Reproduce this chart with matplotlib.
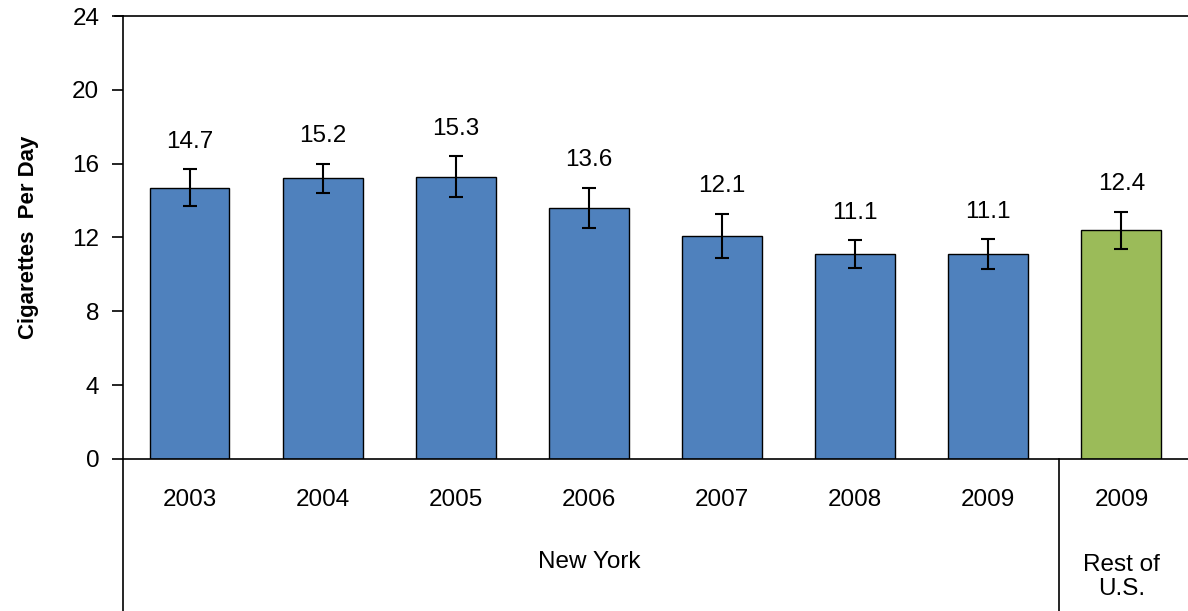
import matplotlib.pyplot as plt
import matplotlib.transforms as mtransforms
import numpy as np

plt.rcParams['font.family'] = ['Liberation Sans', 'DejaVu Sans']

# Data
years = ['2003', '2004', '2005', '2006', '2007', '2008', '2009', '2009']
values = [14.7, 15.2, 15.3, 13.6, 12.1, 11.1, 11.1, 12.4]
errors = [1.0, 0.8, 1.1, 1.1, 1.2, 0.75, 0.8, 1.0]
groups = ['New York', 'Rest of\nU.S.']
colors = ['#4F81BD'] * 7 + ['#9BBB59']

fig = plt.figure(figsize=(11.88, 6.11), dpi=100)
ax = fig.add_axes([0.1035, 0.2488, 0.8965, 0.725])

x = np.arange(len(values))
ax.bar(x, values, width=0.6, color=colors, edgecolor='black', linewidth=1, zorder=2)
ax.errorbar(x, values, yerr=errors, fmt='none', ecolor='black', elinewidth=1.5,
            capsize=5, capthick=1.5, zorder=3)

for xi, v, e in zip(x, values, errors):
    ax.annotate(f'{v:.1f}', (xi, v + e), xytext=(0, 12), textcoords='offset points',
                ha='center', va='bottom', fontsize=17.5)

ax.set_xlim(-0.5, len(values) - 0.5)
ax.set_ylim(0, 24)
ax.set_yticks(np.arange(0, 25, 4))
ax.tick_params(axis='y', direction='out', length=8, width=1.2, labelsize=17.5, pad=9)
ax.set_xticks([])
ax.set_ylabel('Cigarettes  Per Day', fontsize=16, fontweight='bold', labelpad=24)

for s in ['left', 'bottom', 'top']:
    ax.spines[s].set_linewidth(1.2)
ax.spines['right'].set_visible(False)

trans = mtransforms.blended_transform_factory(ax.transData, ax.transAxes)

# category table below the axis
ax.plot([-0.5, -0.5], [0, -0.35], transform=trans, color='black', linewidth=1.2, clip_on=False)
ax.plot([6.53, 6.53], [0, -0.35], transform=trans, color='black', linewidth=1.2, clip_on=False)
ax.plot([-0.56, -0.5], [1, 1], transform=trans, color='black', linewidth=1.2, clip_on=False)

for xi, yr in zip(x, years):
    ax.text(xi, -0.0926, yr, transform=trans, ha='center', va='center', fontsize=17.5)
ax.text(3.0, -0.2325, groups[0], transform=trans, ha='center', va='center', fontsize=17.5)
ax.text(7.0, -0.266, groups[1], transform=trans, ha='center', va='center', fontsize=17.5,
        linespacing=1.1)

fig.savefig('out.png', dpi=100)
